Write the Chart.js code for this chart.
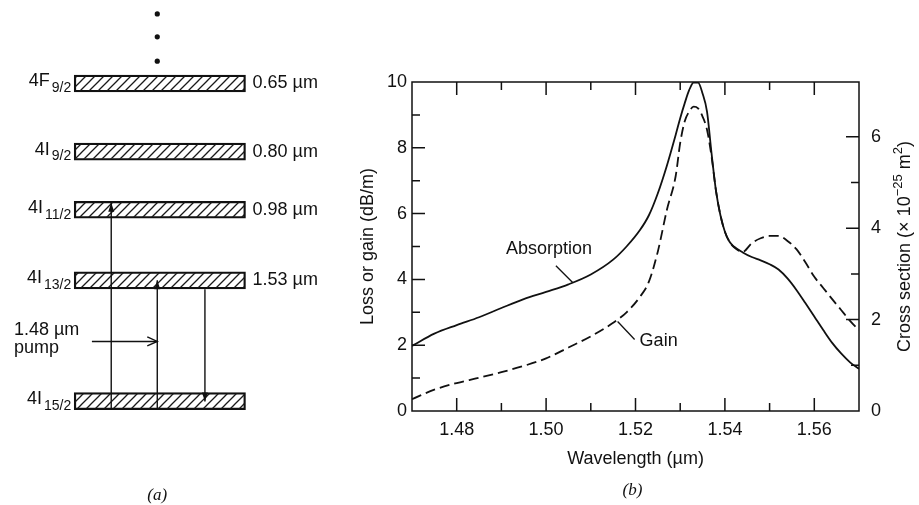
<!DOCTYPE html>
<html>
<head>
<meta charset="utf-8">
<script src="https://cdn.jsdelivr.net/npm/chart.js@4.4.1/dist/chart.umd.min.js"></script>
<style>
  html, body { margin: 0; padding: 0; background: #fff; }
  body { width: 919px; height: 505px; position: relative; overflow: hidden; }
  #levels { position: absolute; left: 0; top: 0; width: 330px; height: 505px; }
  #spectrum { position: absolute; left: 350px; top: 0; width: 569px; height: 505px; }
</style>
</head>
<body>
<div id="levels"><canvas id="levelChart"></canvas></div>
<div id="spectrum"><canvas id="specChart"></canvas></div>
<script>
// (a) Er3+ levels, schematic heights in diagram units
const levelNames = ['4I', '4I', '4I', '4I', '4F'];
const levelSubs = ['15/2', '13/2', '11/2', '9/2', '9/2'];
const levelWavelengths = ['', '1.53 µm', '0.98 µm', '0.80 µm', '0.65 µm'];
const levelHeights = [2.01, 4.44, 5.86, 7.03, 8.40];
const levelSpan = [2.18, 7.5];
const dotHeights = [8.85, 9.34, 9.80];
const dotX = 4.76;
const arrowX = [3.33, 4.76, 6.24];
const arrowFrom = [1.84, 1.84, 4.26];
const arrowTo = [6.0, 4.44, 2.0];
const pumpX = [2.73, 4.76];
const pumpY = 3.21;
const pumpText = ['1.48 µm', 'pump'];

// (b) absorption and gain spectra
const wavelength = [1.470, 1.475, 1.480, 1.485, 1.490, 1.495, 1.500, 1.505, 1.510, 1.515,
  1.518, 1.521, 1.523, 1.525, 1.527, 1.529, 1.530, 1.531, 1.532, 1.533, 1.534, 1.535,
  1.536, 1.537, 1.538, 1.539, 1.540, 1.541, 1.542, 1.544, 1.546, 1.548, 1.550, 1.552,
  1.554, 1.556, 1.558, 1.560, 1.562, 1.564, 1.566, 1.568, 1.570];
const absorption = [1.98, 2.35, 2.61, 2.85, 3.13, 3.40, 3.62, 3.85, 4.15, 4.60,
  5.00, 5.50, 5.95, 6.62, 7.45, 8.40, 8.90, 9.35, 9.75, 9.98, 9.98, 9.65,
  9.10, 7.85, 6.70, 5.95, 5.45, 5.15, 5.00, 4.82, 4.68, 4.58, 4.46, 4.30,
  4.03, 3.68, 3.28, 2.87, 2.46, 2.07, 1.75, 1.48, 1.28];
const gain = [0.36, 0.65, 0.85, 1.01, 1.18, 1.37, 1.60, 1.93, 2.27, 2.68,
  3.00, 3.47, 3.93, 4.85, 6.10, 7.15, 8.15, 8.80, 9.10, 9.25, 9.20, 8.95,
  8.55, 7.75, 6.70, 5.95, 5.45, 5.15, 4.98, 4.84, 5.10, 5.25, 5.32, 5.32,
  5.17, 4.92, 4.52, 4.08, 3.74, 3.40, 3.07, 2.74, 2.45];

const wlMajor = [1.48, 1.50, 1.52, 1.54, 1.56];
const wlMinor = [1.49, 1.51, 1.53, 1.55];
const lossMajor = [0, 2, 4, 6, 8, 10];
const lossMinor = [1, 3, 5, 7, 9];
const xsecMajor = [0, 2, 4, 6];
const xsecMinor = [1, 3, 5];

const curveNotes = ['Absorption', 'Gain'];
const noteWl = [1.506, 1.516];
const noteVal = [3.9, 2.72];

const SANS = '"Liberation Sans", Arial, sans-serif';
const INK = '#111';

Chart.defaults.font.family = SANS;
Chart.defaults.font.size = 18;
Chart.defaults.color = INK;

const hatch = (() => {
  const c = document.createElement('canvas');
  c.width = 9; c.height = 9;
  const g = c.getContext('2d');
  g.strokeStyle = '#1a1a1a';
  g.lineWidth = 1.3;
  g.beginPath();
  g.moveTo(0, 9); g.lineTo(9, 0);
  g.moveTo(-2, 2); g.lineTo(2, -2);
  g.moveTo(7, 11); g.lineTo(11, 7);
  g.stroke();
  return g.createPattern(c, 'repeat');
})();

function drawHead(ctx, x, y, ang, filled) {
  const len = filled ? 9 : 10, half = filled ? 3 : 4.5;
  ctx.save();
  ctx.translate(x, y);
  ctx.rotate(ang);
  ctx.beginPath();
  ctx.moveTo(-len, -half);
  ctx.lineTo(0, 0);
  ctx.lineTo(-len, half);
  if (filled) {
    ctx.closePath();
    ctx.fill();
  } else {
    ctx.lineWidth = 1.4;
    ctx.stroke();
  }
  ctx.restore();
}

const levelLabels = {
  id: 'levelLabels',
  afterDatasetsDraw(chart) {
    const ctx = chart.ctx;
    ctx.save();
    ctx.fillStyle = INK;
    ctx.strokeStyle = INK;
    ctx.textBaseline = 'middle';
    ctx.textAlign = 'left';

    const bars = chart.getDatasetMeta(chart.data.datasets.length - 1).data;
    bars.forEach((bar, i) => {
      const p = bar.getProps(['x', 'base', 'y'], true);
      const left = Math.min(p.x, p.base), right = Math.max(p.x, p.base);
      ctx.font = '18px ' + SANS;
      const wMain = ctx.measureText(levelNames[i]).width + 2;
      ctx.font = '14px ' + SANS;
      const wSub = ctx.measureText(levelSubs[i]).width;
      const start = left - 3 - wMain - wSub;
      ctx.font = '18px ' + SANS;
      ctx.fillText(levelNames[i], start, p.y - 2);
      ctx.font = '14px ' + SANS;
      ctx.fillText(levelSubs[i], start + wMain, p.y + 5);
      if (levelWavelengths[i]) {
        ctx.font = '18px ' + SANS;
        ctx.fillText(levelWavelengths[i], right + 7, p.y);
      }
    });

    chart.data.datasets.forEach((ds, i) => {
      if (!ds.arrow) return;
      const pts = chart.getDatasetMeta(i).data;
      const a = pts[0], b = pts[1];
      drawHead(ctx, b.x, b.y, Math.atan2(b.y - a.y, b.x - a.x), ds.arrow === 'filled');
      if (ds.arrow === 'open') {
        ctx.font = '18px ' + SANS;
        ctx.fillText(pumpText[0], a.x - 78, a.y - 11);
        ctx.fillText(pumpText[1], a.x - 78, a.y + 7);
      }
    });

    const dot = chart.getDatasetMeta(0).data[0];
    ctx.font = 'italic 17px "Liberation Serif", serif';
    ctx.textAlign = 'center';
    ctx.fillText('(a)', dot.x, chart.height - 9);
    ctx.restore();
  }
};

const levelDatasets = [
  {
    type: 'scatter',
    data: dotHeights.map(y => ({x: dotX, y})),
    pointRadius: 2.6,
    pointBackgroundColor: INK,
    pointBorderWidth: 0
  },
  ...arrowX.map((x, i) => ({
    type: 'scatter',
    showLine: true,
    data: [{x, y: arrowFrom[i]}, {x, y: arrowTo[i]}],
    borderColor: INK,
    borderWidth: 1.4,
    pointRadius: 0,
    arrow: 'filled'
  })),
  {
    type: 'scatter',
    showLine: true,
    data: pumpX.map(x => ({x, y: pumpY})),
    borderColor: INK,
    borderWidth: 1.4,
    pointRadius: 0,
    arrow: 'open'
  },
  {
    type: 'bar',
    indexAxis: 'y',
    data: levelHeights.map(h => ({x: levelSpan, y: h})),
    backgroundColor: hatch,
    borderColor: INK,
    borderWidth: 1.6,
    borderSkipped: false,
    barThickness: 17
  }
];

new Chart(document.getElementById('levelChart'), {
  type: 'bar',
  data: {datasets: levelDatasets},
  options: {
    responsive: true,
    maintainAspectRatio: false,
    animation: false,
    layout: {padding: 0},
    plugins: {legend: {display: false}, tooltip: {enabled: false}},
    scales: {
      x: {type: 'linear', min: 0, max: 10, offset: false, display: false},
      y: {type: 'linear', min: 0, max: 10, offset: false, display: false}
    }
  },
  plugins: [levelLabels]
});

function tickList(major, minor) {
  return major.concat(minor).sort((a, b) => a - b).map(v => ({value: v}));
}

const frameTicks = {
  id: 'frameTicks',
  afterDatasetsDraw(chart) {
    const {ctx, chartArea: a, scales} = chart;
    ctx.save();
    ctx.strokeStyle = INK;
    ctx.fillStyle = INK;
    ctx.lineWidth = 1.5;
    ctx.strokeRect(a.left, a.top, a.right - a.left, a.bottom - a.top);

    const mark = (scale, major, fn) => scale.ticks.forEach(t => {
      if (t.value <= scale.min || t.value >= scale.max) return;
      fn(scale.getPixelForValue(t.value), major.includes(t.value) ? 13 : 8);
    });
    ctx.beginPath();
    mark(scales.x, wlMajor, (p, len) => {
      ctx.moveTo(p, a.bottom); ctx.lineTo(p, a.bottom - len);
      ctx.moveTo(p, a.top); ctx.lineTo(p, a.top + len);
    });
    mark(scales.y, lossMajor, (p, len) => { ctx.moveTo(a.left, p); ctx.lineTo(a.left + len, p); });
    mark(scales.y2, xsecMajor, (p, len) => { ctx.moveTo(a.right, p); ctx.lineTo(a.right - len, p); });
    ctx.stroke();

    // curve labels with leader lines
    ctx.lineWidth = 1.3;
    ctx.font = '18px ' + SANS;
    ctx.textBaseline = 'middle';
    curveNotes.forEach((txt, i) => {
      const px = scales.x.getPixelForValue(noteWl[i]);
      const py = scales.y.getPixelForValue(noteVal[i]);
      ctx.beginPath();
      if (i === 0) {
        ctx.moveTo(px, py); ctx.lineTo(px - 17, py - 17);
        ctx.stroke();
        ctx.textAlign = 'center';
        ctx.fillText(txt, px - 24, py - 34);
      } else {
        ctx.moveTo(px, py); ctx.lineTo(px + 17, py + 18);
        ctx.stroke();
        ctx.textAlign = 'left';
        ctx.fillText(txt, px + 22, py + 20);
      }
    });

    // right axis title, read bottom to top like the left one
    const parts = [['Cross section (× 10', 18, 0], ['−25', 13, -7], [' m', 18, 0], ['2', 13, -7], [')', 18, 0]];
    let total = 0;
    parts.forEach(pt => { ctx.font = pt[1] + 'px ' + SANS; pt.push(ctx.measureText(pt[0]).width); total += pt[3]; });
    ctx.translate(a.right + 46, (a.top + a.bottom) / 2);
    ctx.rotate(-Math.PI / 2);
    ctx.textAlign = 'left';
    let cx = -total / 2;
    parts.forEach(pt => {
      ctx.font = pt[1] + 'px ' + SANS;
      ctx.fillText(pt[0], cx, pt[2]);
      cx += pt[3];
    });
    ctx.setTransform(1, 0, 0, 1, 0, 0);

    ctx.font = 'italic 17px "Liberation Serif", serif';
    ctx.textAlign = 'center';
    ctx.fillText('(b)', (a.left + a.right) / 2 - 3, a.bottom + 80);
    ctx.restore();
  }
};

new Chart(document.getElementById('specChart'), {
  type: 'line',
  data: {
    datasets: [
      {
        label: 'Absorption',
        data: wavelength.map((w, i) => ({x: w, y: absorption[i]})),
        borderColor: INK,
        borderWidth: 1.8,
        pointRadius: 0,
        cubicInterpolationMode: 'monotone',
        yAxisID: 'y'
      },
      {
        label: 'Gain',
        data: wavelength.map((w, i) => ({x: w, y: gain[i]})),
        borderColor: INK,
        borderWidth: 1.8,
        borderDash: [10, 5],
        pointRadius: 0,
        cubicInterpolationMode: 'monotone',
        yAxisID: 'y'
      }
    ]
  },
  options: {
    responsive: true,
    maintainAspectRatio: false,
    animation: false,
    layout: {padding: {top: 82, left: 0, right: 0, bottom: 0}},
    plugins: {legend: {display: false}, tooltip: {enabled: false}},
    scales: {
      x: {
        type: 'linear', min: 1.47, max: 1.57,
        afterBuildTicks: s => { s.ticks = tickList(wlMajor, wlMinor); },
        afterFit: s => { s.height = 94; },
        grid: {display: false, drawTicks: false},
        border: {display: false},
        ticks: {
          autoSkip: false, maxRotation: 0, padding: 8,
          callback: v => wlMajor.includes(v) ? v.toFixed(2) : ''
        },
        title: {display: true, text: 'Wavelength (µm)', padding: {top: 0, bottom: 35}}
      },
      y: {
        type: 'linear', position: 'left', min: 0, max: 10,
        afterBuildTicks: s => { s.ticks = tickList(lossMajor, lossMinor); },
        afterFit: s => { s.width = 62; },
        grid: {display: false, drawTicks: false},
        border: {display: false},
        ticks: {autoSkip: false, padding: 5, callback: v => lossMajor.includes(v) ? String(v) : ''},
        title: {display: true, text: 'Loss or gain (dB/m)', padding: {top: 7, bottom: 0}}
      },
      y2: {
        type: 'linear', position: 'right', min: 0, max: 7.2,
        afterBuildTicks: s => { s.ticks = tickList(xsecMajor, xsecMinor); },
        afterFit: s => { s.width = 60; },
        grid: {display: false, drawTicks: false},
        border: {display: false},
        ticks: {autoSkip: false, padding: 12, callback: v => xsecMajor.includes(v) ? String(v) : ''}
      }
    }
  },
  plugins: [frameTicks]
});
</script>
</body>
</html>
